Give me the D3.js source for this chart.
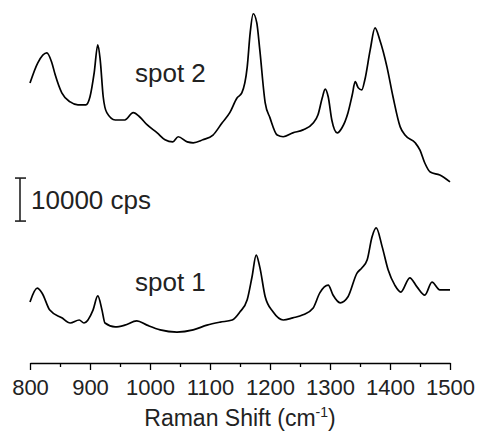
<!DOCTYPE html>
<html>
<head>
<meta charset="utf-8">
<script src="https://cdn.jsdelivr.net/npm/d3@7"></script>
<style>
  body { margin: 0; background: #fff; }
  svg text { font-family: Arial, "Liberation Sans", sans-serif; fill: #222; }
</style>
</head>
<body>
<div class="chart"></div>
<script>
// Raman shift (cm-1) of the points
const spot2Shift = [800, 813, 828, 836, 842, 853, 867, 880, 893, 900, 907, 913, 917, 922, 928, 942, 958, 972, 983, 995,
  1012, 1025, 1038, 1047, 1062, 1072, 1088, 1105, 1120, 1133, 1145, 1153, 1162, 1167, 1172, 1178, 1183, 1192, 1200, 1212,
  1222, 1238, 1255, 1272, 1280, 1287, 1292, 1297, 1303, 1312, 1320, 1330, 1337, 1342, 1347, 1353, 1358, 1367, 1375, 1383,
  1395, 1405, 1417, 1425, 1442, 1450, 1458, 1467, 1483, 1500];
// intensity in cps (spot 2 is offset upward)
const spot2Cps = [65100, 69800, 72100, 70000, 67000, 62800, 60700, 60000, 60000, 61900, 67500, 74000, 70500, 61900, 58200, 56500, 56500, 58200, 57200, 55400,
  53500, 51900, 51400, 52600, 51400, 51200, 51900, 53000, 55800, 58200, 61600, 62800, 68800, 76800, 81200, 79100, 72800, 60500, 57000, 53000,
  52600, 53500, 54200, 55800, 57700, 61600, 63700, 61900, 56500, 53500, 54700, 58200, 62300, 65400, 64000, 63500, 65800, 72800, 77900, 75100,
  68800, 61900, 54900, 53000, 51200, 49500, 46500, 44400, 43700, 42100];

const spot1Shift = [800, 812, 820, 833, 853, 867, 882, 890, 905, 913, 920, 925, 942, 958, 978, 995, 1017, 1045, 1072, 1095,
  1117, 1137, 1150, 1162, 1170, 1177, 1183, 1192, 1205, 1222, 1238, 1255, 1272, 1283, 1297, 1305, 1317, 1330, 1345, 1353,
  1362, 1370, 1377, 1387, 1397, 1408, 1418, 1433, 1445, 1458, 1470, 1483, 1500];
const spot1Cps = [14200, 17400, 16300, 12300, 10500, 9300, 10000, 9300, 12300, 15600, 12300, 9300, 8400, 8800, 9800, 8800, 7700, 7200, 7700, 8800,
  9500, 10000, 11900, 14700, 20000, 25100, 22300, 15400, 11900, 10000, 10500, 11200, 12800, 16300, 18100, 15800, 14000, 15400, 20900, 22100,
  24000, 29300, 31400, 27000, 21600, 18100, 16500, 19800, 17700, 15800, 18800, 17000, 17000];

const xTicks = [800, 900, 1000, 1100, 1200, 1300, 1400, 1500];
const xMinorTicks = [850, 950, 1050, 1150, 1250, 1350, 1450];
const scaleBarCps = [33000, 43000];   // 10000 cps bar
const spotLabels = [
  {text: 'spot 2', shift: 975, cps: 65300},
  {text: 'spot 1', shift: 975, cps: 16700}
];

const svg_width = 483, svg_height = 438;
const svg = d3.select('.chart').append('svg')
  .attr('width', svg_width).attr('height', svg_height);

const xScale = d3.scaleLinear().domain([800, 1500]).range([30, 450]);
const yScale = d3.scaleLinear().domain([0, 84400]).range([363, 0]);

const line = d3.line()
  .x(d => xScale(d[0]))
  .y(d => yScale(d[1]))
  .curve(d3.curveMonotoneX);

[[spot1Shift, spot1Cps], [spot2Shift, spot2Cps]].forEach(([xs, ys]) => {
  svg.append('path')
    .datum(d3.zip(xs, ys))
    .attr('d', line)
    .attr('fill', 'none')
    .attr('stroke', '#000')
    .attr('stroke-width', 1.7)
    .attr('stroke-linejoin', 'round');
});

// x axis: minor ticks first, then major ticks + labels
const axisY = yScale(0);
svg.append('g')
  .attr('transform', `translate(0,${axisY})`)
  .call(d3.axisBottom(xScale).tickValues(xMinorTicks).tickSize(4).tickFormat(''))
  .call(g => g.select('.domain').remove())
  .selectAll('line').attr('stroke', '#000').attr('stroke-width', 1.3);

const xAxis = svg.append('g')
  .attr('transform', `translate(0,${axisY})`)
  .call(d3.axisBottom(xScale).tickValues(xTicks).tickSize(7).tickSizeOuter(0).tickPadding(9).tickFormat(d3.format('d')));
xAxis.select('.domain').attr('stroke', '#000').attr('stroke-width', 1.3);
xAxis.selectAll('line').attr('stroke', '#000').attr('stroke-width', 1.3);
xAxis.selectAll('text').style('font-size', '22px').style('font-family', 'Arial, "Liberation Sans", sans-serif').attr('fill', '#222');

// axis title
const title = svg.append('text')
  .attr('x', 240).attr('y', 426)
  .attr('text-anchor', 'middle')
  .style('font-size', '23px');
title.append('tspan').text('Raman Shift (cm');
title.append('tspan').text('-1').attr('dy', -9).style('font-size', '14px');
title.append('tspan').text(')').attr('dy', 9);

// scale bar
const barX = 20;
const bar = svg.append('g').attr('stroke', '#222').attr('stroke-width', 1.6);
bar.append('line').attr('x1', barX).attr('x2', barX)
  .attr('y1', yScale(scaleBarCps[0])).attr('y2', yScale(scaleBarCps[1]));
scaleBarCps.forEach(v => {
  bar.append('line').attr('x1', barX - 5).attr('x2', barX + 6)
    .attr('y1', yScale(v)).attr('y2', yScale(v));
});
svg.append('text')
  .attr('x', 31).attr('y', yScale(d3.mean(scaleBarCps)) + 9)
  .style('font-size', '26px')
  .text('10000 cps');

// spot labels
svg.selectAll('.spot-label')
  .data(spotLabels).enter()
  .append('text')
  .attr('class', 'spot-label')
  .attr('x', d => xScale(d.shift))
  .attr('y', d => yScale(d.cps))
  .style('font-size', '26px')
  .text(d => d.text);
</script>
</body>
</html>
